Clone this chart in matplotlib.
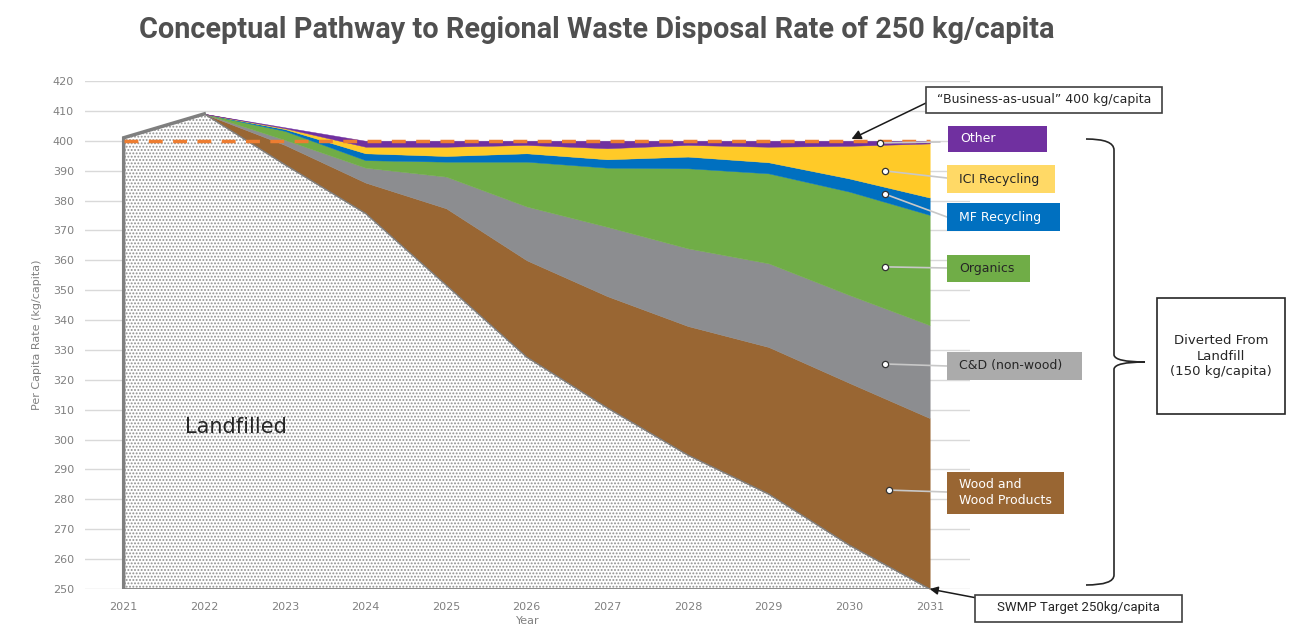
import matplotlib
matplotlib.use("Agg")
import matplotlib.pyplot as plt
import numpy as np
from matplotlib.patches import Rectangle, PathPatch
from matplotlib.path import Path
from matplotlib.transforms import Affine2D

# Data (kg/capita); each list is one stacked layer
years = [2021, 2022, 2023, 2024, 2025, 2026, 2027, 2028, 2029, 2030, 2031]
landfilled = [401, 409, 392, 375.7, 351.7, 327.6, 310.6, 294.8, 281.8, 264.7, 250]
wood = [0, 0, 6.6, 10.3, 25.7, 32.4, 37.4, 43.2, 49.2, 54.3, 57.2]
cnd = [0, 0, 1.7, 5.0, 10.6, 18.0, 23.2, 26.0, 28.0, 29.4, 31.1]
organics = [0, 0, 3.0, 2.5, 5.0, 15.0, 19.8, 26.8, 30.1, 34.6, 36.9]
mf_recycling = [0, 0, 0.6, 2.3, 1.9, 2.8, 2.8, 3.9, 3.7, 4.4, 5.8]
ici_recycling = [0, 0, 0.3, 2.2, 3.1, 2.8, 3.7, 3.9, 5.2, 10.9, 18.1]
other = [0, 0, 0.3, 2.0, 2.0, 1.4, 2.5, 1.4, 2.0, 1.7, 0.9]
bau_rate = 400
target_rate = 250

layer_names = ["Wood and\nWood Products", "C&D (non-wood)", "Organics",
               "MF Recycling", "ICI Recycling", "Other"]
layer_values = [wood, cnd, organics, mf_recycling, ici_recycling, other]
layer_colors = ["#996633", "#8c8d90", "#70ad47", "#0070c0", "#ffca28", "#7030a0"]
box_colors = ["#996633", "#ababab", "#70ad47", "#0070c0", "#ffd966", "#7030a0"]
box_text_colors = ["white", "#262626", "#262626", "white", "#262626", "white"]

W, H = 1300, 624
fig = plt.figure(figsize=(W / 100, H / 100), dpi=100)

def fx(px):
    return px / W

def fy(py):
    return 1 - py / H

ax = fig.add_axes([fx(85), fy(589), (970 - 85) / W, (589 - 81) / H])
ax.set_xlim(2020.52, 2031.5)
ax.set_ylim(250, 420)

#Landfilled area with dotted fill
plt.rcParams['hatch.linewidth'] = 0.9
ax.fill_between(years, target_rate, landfilled, facecolor="white", edgecolor="#8f8f8f",
                hatch=".....", linewidth=0, zorder=2)

#Stacked diversion layers
bottom = np.array(landfilled, dtype=float)
for vals, col in zip(layer_values, layer_colors):
    top = bottom + np.array(vals)
    ax.fill_between(years, bottom, top, facecolor=col, edgecolor=col, linewidth=0.3, zorder=3)
    bottom = top

#Outline of landfilled area
ax.plot([years[0], years[0], years[1]], [target_rate, landfilled[0], landfilled[1]],
        color="#7f7f7f", lw=2.5, zorder=4, solid_joinstyle="miter")
ax.plot(years[1:], landfilled[1:], color="#7f7f7f", lw=1.0, zorder=4)
ax.plot([years[0], years[-1]], [target_rate, target_rate], color="#7f7f7f", lw=2.0, zorder=4)

#Business-as-usual line
ax.plot([years[0], years[-1]], [bau_rate, bau_rate], color="#ed7d31", lw=2.5,
        dashes=(4, 3), zorder=5)

ax.set_yticks(np.arange(250, 421, 10))
ax.set_xticks(years)
ax.grid(axis="y", color="#d9d9d9", lw=1.0, zorder=0)
ax.set_axisbelow(True)
for s in ax.spines.values():
    s.set_visible(False)
ax.tick_params(length=0, labelsize=8, colors="#808080", pad=8)
ax.tick_params(axis="x", pad=9)
ax.set_ylabel("Per Capita Rate (kg/capita)", fontsize=8, color="#808080", labelpad=8)
ax.set_xlabel("Year", fontsize=8, color="#808080", labelpad=3)

ax.text(2021.76, 304.2, "Landfilled", fontsize=15, color="#262626", va="center", zorder=6)

#Title
fig.text(fx(597), fy(30), "Conceptual Pathway to Regional Waste Disposal Rate of 250 kg/capita",
         fontsize=20.8, fontweight="bold", color="#505050", ha="center", va="center",
         family="Roboto")

def box(x0, y0, x1, y1, fc, ec="none", lw=1.0):
    fig.add_artist(Rectangle((fx(x0), fy(y1)), (x1 - x0) / W, (y1 - y0) / H,
                             transform=fig.transFigure, facecolor=fc, edgecolor=ec,
                             linewidth=lw))

#Category label boxes with leader lines
label_boxes = [(947, 472, 1064, 514), (947, 352, 1082, 380), (947, 255, 1030, 282),
               (947, 203, 1060, 231), (947, 165, 1055, 193), (948, 126, 1047, 152)]
marker_pos = [(2030.49, 283.1), (2030.45, 325.3), (2030.45, 357.8),
              (2030.44, 382.2), (2030.45, 389.9), (2030.38, 399.3)]
line_ends = [(947, 492), (947, 366), (947, 268), (947, 217), (947, 178), (940, 142)]
for name, bx, fc, tc, mp, le in zip(layer_names, label_boxes, box_colors, box_text_colors,
                                    marker_pos, line_ends):
    box(*bx, fc=fc)
    fig.text(fx(bx[0] + 12), fy((bx[1] + bx[3]) / 2), name, fontsize=9, color=tc,
             ha="left", va="center", linespacing=1.3)
    ax.annotate("", xy=(fx(le[0]), fy(le[1])), xycoords="figure fraction",
                xytext=mp, textcoords="data",
                arrowprops=dict(arrowstyle="-", color="#c8c8c8", lw=1.2,
                                shrinkA=0, shrinkB=0), zorder=6)
    ax.plot(*mp, marker="o", ms=4.5, mfc="white", mec="#333333", mew=0.9, zorder=7,
            clip_on=False)

#Business-as-usual callout
box(926, 87, 1162, 113, fc="white", ec="#404040", lw=1.2)
fig.text(fx(1044), fy(100), "\u201cBusiness-as-usual\u201d 400 kg/capita", fontsize=9,
         color="#262626", ha="center", va="center")
ax.annotate("", xy=(2030.03, 400.6), xycoords="data",
            xytext=(fx(926), fy(103)), textcoords="figure fraction",
            arrowprops=dict(arrowstyle="-|>", color="#1a1a1a", lw=1.1, mutation_scale=14,
                            shrinkA=0, shrinkB=0), zorder=8)

#SWMP target callout
box(975, 595, 1182, 622, fc="white", ec="#404040", lw=1.2)
fig.text(fx(1078), fy(608), "SWMP Target 250kg/capita", fontsize=9.5, color="#262626",
         ha="center", va="center", family="Roboto")
ax.annotate("", xy=(years[-1], target_rate), xycoords="data",
            xytext=(fx(977), fy(598)), textcoords="figure fraction",
            arrowprops=dict(arrowstyle="-|>", color="#1a1a1a", lw=1.1, mutation_scale=12,
                            shrinkA=0, shrinkB=0), annotation_clip=False, zorder=8)

#Curly brace
verts = [(1086, 139), (1114, 139), (1114, 150), (1114, 355),
         (1115, 362), (1145, 362),
         (1115, 362), (1114, 369), (1114, 575), (1114, 585), (1086, 585)]
codes = [Path.MOVETO, Path.CURVE3, Path.CURVE3, Path.LINETO,
         Path.CURVE3, Path.CURVE3,
         Path.CURVE3, Path.CURVE3, Path.LINETO, Path.CURVE3, Path.CURVE3]
pix = Affine2D().scale(1 / W, -1 / H).translate(0, 1) + fig.transFigure
fig.add_artist(PathPatch(Path(verts, codes), transform=pix, fill=False,
                         edgecolor="#262626", lw=1.2))

#Diverted box
box(1157, 298, 1285, 414, fc="white", ec="#262626", lw=1.2)
fig.text(fx(1221), fy(356), "Diverted From\nLandfill\n(150 kg/capita)", fontsize=9.5,
         color="#262626", ha="center", va="center", linespacing=1.3)

plt.savefig("out.png", dpi=100)
